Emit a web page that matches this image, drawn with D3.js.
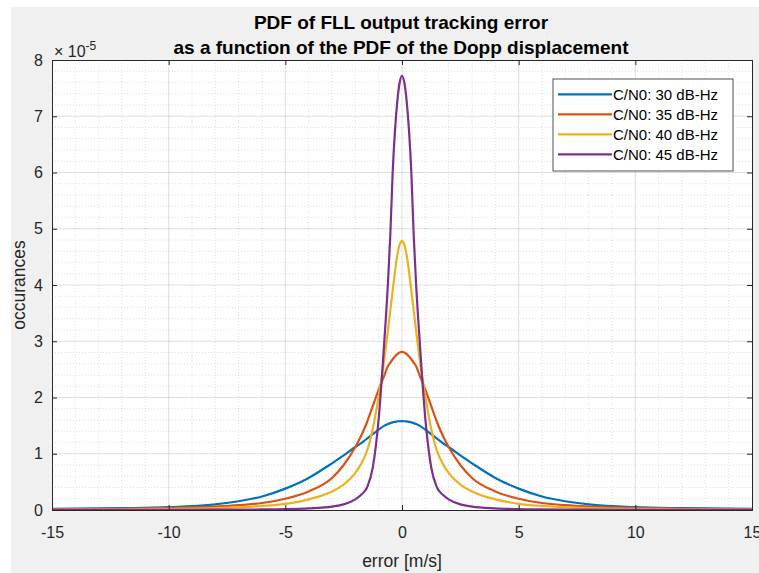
<!DOCTYPE html>
<html>
<head>
<meta charset="utf-8">
<script src="https://cdn.jsdelivr.net/npm/d3@7"></script>
<style>
  html, body { margin: 0; padding: 0; background: #fff; }
  svg { display: block; font-family: 'Liberation Sans', Arial, sans-serif; }
</style>
</head>
<body>
<div id="chart"></div>
<script>
// error axis [m/s]
const errorValues = [-15, -12, -10, -8, -7, -6, -5, -4, -3, -2.5, -2, -1.75, -1.5, -1.25, -1, -0.75, -0.6, -0.5, -0.4, -0.3, -0.2, -0.1,
  0, 0.1, 0.2, 0.3, 0.4, 0.5, 0.6, 0.75, 1, 1.25, 1.5, 1.75, 2, 2.5, 3, 4, 5, 6, 7, 8, 10, 12, 15];

// occurances, in units of 1e-5
const pdf30 = [0.022, 0.033, 0.05, 0.10, 0.155, 0.24, 0.38, 0.57, 0.83, 0.97, 1.12, 1.19, 1.27, 1.35, 1.43, 1.50, 1.53, 1.545, 1.558, 1.567, 1.574, 1.578,
  1.58, 1.578, 1.574, 1.567, 1.558, 1.545, 1.53, 1.50, 1.43, 1.35, 1.27, 1.19, 1.12, 0.97, 0.83, 0.57, 0.38, 0.24, 0.155, 0.10, 0.05, 0.033, 0.022];
const pdf35 = [0.013, 0.022, 0.035, 0.06, 0.085, 0.125, 0.20, 0.33, 0.57, 0.80, 1.12, 1.32, 1.56, 1.85, 2.14, 2.40, 2.56, 2.62, 2.68, 2.73, 2.77, 2.80,
  2.81, 2.80, 2.77, 2.73, 2.68, 2.62, 2.56, 2.40, 2.14, 1.85, 1.56, 1.32, 1.12, 0.80, 0.57, 0.33, 0.20, 0.125, 0.085, 0.06, 0.035, 0.022, 0.013];
const pdf40 = [0.008, 0.013, 0.021, 0.036, 0.05, 0.072, 0.11, 0.19, 0.33, 0.45, 0.66, 0.82, 1.05, 1.45, 2.02, 2.70, 3.20, 3.55, 3.90, 4.24, 4.53, 4.72,
  4.78, 4.72, 4.53, 4.24, 3.90, 3.55, 3.20, 2.70, 2.02, 1.45, 1.05, 0.82, 0.66, 0.45, 0.33, 0.19, 0.11, 0.072, 0.05, 0.036, 0.021, 0.013, 0.008];
const pdf45 = [0.001, 0.002, 0.003, 0.005, 0.007, 0.01, 0.016, 0.03, 0.06, 0.10, 0.19, 0.27, 0.40, 0.76, 1.62, 3.05, 4.05, 4.90, 6.00, 6.75, 7.27, 7.60,
  7.72, 7.60, 7.27, 6.75, 6.00, 4.90, 4.05, 3.05, 1.62, 0.76, 0.40, 0.27, 0.19, 0.10, 0.06, 0.03, 0.016, 0.01, 0.007, 0.005, 0.003, 0.002, 0.001];

const seriesLabels = ['C/N0: 30 dB-Hz', 'C/N0: 35 dB-Hz', 'C/N0: 40 dB-Hz', 'C/N0: 45 dB-Hz'];
const xTicks = [-15, -10, -5, 0, 5, 10, 15];
const yTicks = [0, 1, 2, 3, 4, 5, 6, 7, 8];

const colors = ['#0072BD', '#D95319', '#EDB120', '#7E2F8E'];
const allSeries = [pdf30, pdf35, pdf40, pdf45];

const width = 759;
const height = 573;
const plot = { left: 52, top: 60, right: 752, bottom: 510 };
const axisColor = '#262626';

const svg = d3.select('#chart')
  .append('svg')
  .attr('width', width)
  .attr('height', height);

// figure background
svg.append('rect')
  .attr('x', 11).attr('y', 7)
  .attr('width', width - 11).attr('height', height - 7)
  .attr('fill', '#f0f0f0');

const fx = d3.scaleLinear().domain([-15, 15]).range([plot.left, plot.right]);
const fy = d3.scaleLinear().domain([0, 8]).range([plot.bottom, plot.top]);

svg.append('rect')
  .attr('x', plot.left).attr('y', plot.top)
  .attr('width', plot.right - plot.left).attr('height', plot.bottom - plot.top)
  .attr('fill', '#fff');

// minor grid
const grid = svg.append('g');
grid.selectAll('.minor-x')
  .data(d3.range(-14, 15, 1).filter(v => v % 5 !== 0))
  .join('line')
  .attr('class', 'minor-x')
  .attr('x1', d => fx(d)).attr('x2', d => fx(d))
  .attr('y1', plot.top).attr('y2', plot.bottom)
  .attr('stroke', axisColor).attr('stroke-opacity', 0.14)
  .attr('stroke-dasharray', '1,2');
grid.selectAll('.minor-y')
  .data(d3.range(1, 40).map(i => i * 0.2).filter((v, i) => (i + 1) % 5 !== 0))
  .join('line')
  .attr('class', 'minor-y')
  .attr('y1', d => fy(d)).attr('y2', d => fy(d))
  .attr('x1', plot.left).attr('x2', plot.right)
  .attr('stroke', axisColor).attr('stroke-opacity', 0.14)
  .attr('stroke-dasharray', '1,2');

// major grid
grid.selectAll('.major-x')
  .data(xTicks.slice(1, -1))
  .join('line')
  .attr('class', 'major-x')
  .attr('x1', d => fx(d)).attr('x2', d => fx(d))
  .attr('y1', plot.top).attr('y2', plot.bottom)
  .attr('stroke', axisColor).attr('stroke-opacity', 0.15);
grid.selectAll('.major-y')
  .data(yTicks.slice(1, -1))
  .join('line')
  .attr('class', 'major-y')
  .attr('y1', d => fy(d)).attr('y2', d => fy(d))
  .attr('x1', plot.left).attr('x2', plot.right)
  .attr('stroke', axisColor).attr('stroke-opacity', 0.15);

// curves
const line = d3.line()
  .x((d, i) => fx(errorValues[i]))
  .y(d => fy(d))
  .curve(d3.curveMonotoneX);

svg.append('clipPath').attr('id', 'clip')
  .append('rect')
  .attr('x', plot.left).attr('y', plot.top - 2)
  .attr('width', plot.right - plot.left).attr('height', plot.bottom - plot.top + 2);

svg.append('g')
  .attr('clip-path', 'url(#clip)')
  .selectAll('path')
  .data(allSeries)
  .join('path')
  .attr('d', d => line(d))
  .attr('fill', 'none')
  .attr('stroke', (d, i) => colors[i])
  .attr('stroke-width', 2.2)
  .attr('stroke-linejoin', 'round');

// axes (MATLAB style box, ticks inside)
const tickLen = 5;
const plainFormat = d => String(d);
const xAxisBottom = d3.axisBottom(fx).tickValues(xTicks).tickSize(-tickLen).tickPadding(17).tickFormat(plainFormat);
const xAxisTop = d3.axisTop(fx).tickValues(xTicks).tickSize(-tickLen).tickFormat('');
const yAxisLeft = d3.axisLeft(fy).tickValues(yTicks).tickSize(-tickLen).tickPadding(9).tickFormat(plainFormat);
const yAxisRight = d3.axisRight(fy).tickValues(yTicks).tickSize(-tickLen).tickFormat('');

const styleAxis = g => {
  g.select('.domain').attr('stroke', axisColor);
  g.selectAll('.tick line').attr('stroke', axisColor);
  g.selectAll('.tick text')
    .attr('fill', axisColor)
    .style('font-size', '16px')
    .style('font-family', "'Liberation Sans', Arial, sans-serif");
};

svg.append('g').attr('transform', `translate(0, ${plot.bottom})`).call(xAxisBottom).call(styleAxis);
svg.append('g').attr('transform', `translate(0, ${plot.top})`).call(xAxisTop).call(styleAxis);
svg.append('g').attr('transform', `translate(${plot.left}, 0)`).call(yAxisLeft).call(styleAxis);
svg.append('g').attr('transform', `translate(${plot.right}, 0)`).call(yAxisRight).call(styleAxis);

// exponent label
const expText = svg.append('text')
  .attr('x', 54).attr('y', 57)
  .attr('fill', axisColor)
  .style('font-size', '16px');
expText.append('tspan').text('\u00d7 10');
expText.append('tspan').attr('dy', -7).style('font-size', '12px').text('-5');

// titles and labels
svg.selectAll('.title')
  .data(['PDF of FLL output tracking error', 'as a function of the PDF of the Dopp displacement'])
  .join('text')
  .attr('class', 'title')
  .attr('x', 401)
  .attr('y', (d, i) => 29 + i * 25)
  .attr('text-anchor', 'middle')
  .attr('fill', '#000')
  .style('font-size', '19px')
  .style('font-weight', 'bold')
  .text(d => d);

svg.append('text')
  .attr('x', (plot.left + plot.right) / 2)
  .attr('y', 567)
  .attr('text-anchor', 'middle')
  .attr('fill', axisColor)
  .style('font-size', '17.5px')
  .text('error [m/s]');

svg.append('text')
  .attr('transform', `translate(25, ${(plot.top + plot.bottom) / 2}) rotate(-90)`)
  .attr('text-anchor', 'middle')
  .attr('fill', axisColor)
  .style('font-size', '17.5px')
  .text('occurances');

// legend
const legend = svg.append('g').attr('transform', 'translate(553, 79)');
legend.append('rect')
  .attr('width', 180).attr('height', 92)
  .attr('fill', '#fff')
  .attr('stroke', axisColor)
  .attr('stroke-width', 0.8);

const rows = legend.selectAll('.legend-row')
  .data(seriesLabels)
  .join('g')
  .attr('class', 'legend-row')
  .attr('transform', (d, i) => `translate(0, ${15.3 + i * 20})`);

rows.append('line')
  .attr('x1', 5).attr('x2', 59)
  .attr('stroke', (d, i) => colors[i])
  .attr('stroke-width', 2.2);

rows.append('text')
  .attr('x', 60)
  .attr('y', 5.5)
  .attr('fill', '#000')
  .style('font-size', '15px')
  .text(d => d);
</script>
</body>
</html>
